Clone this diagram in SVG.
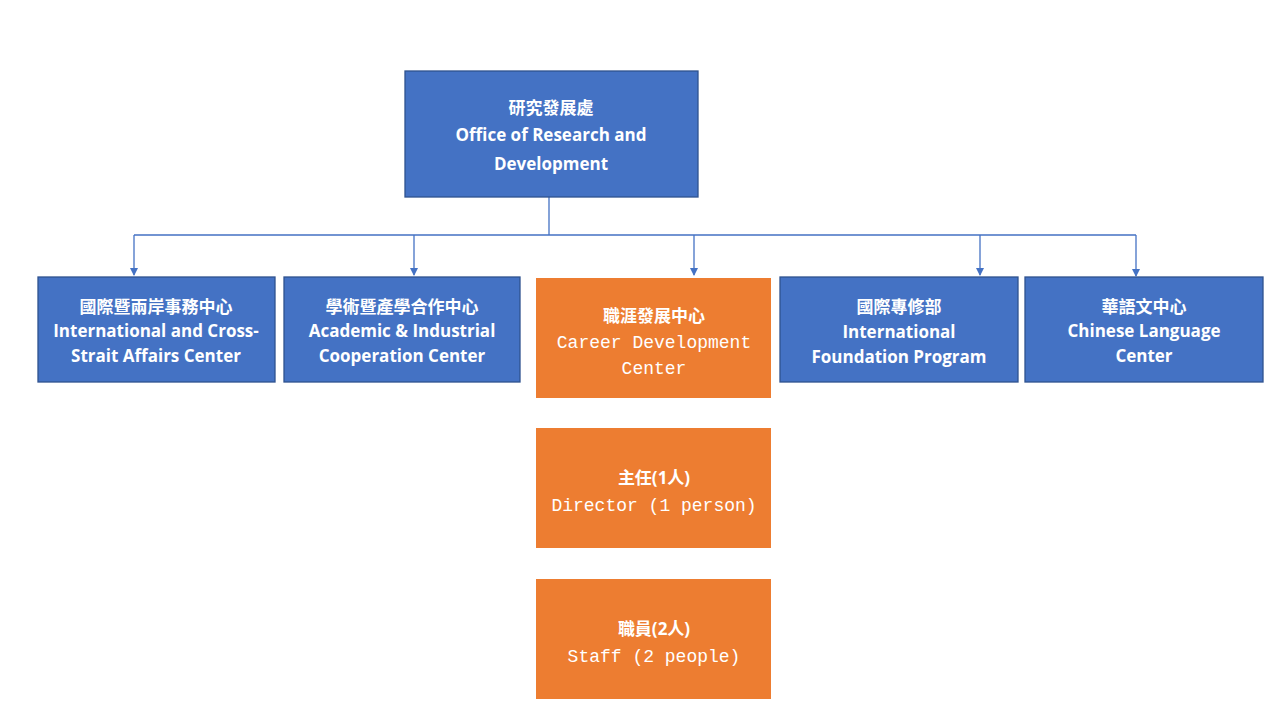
<svg xmlns="http://www.w3.org/2000/svg" width="1280" height="720" viewBox="0 0 1280 720">
<style>
.b{fill:#4472C4;stroke:#2F528F;stroke-width:1.3}
.o{fill:#ED7D31}
text{fill:#fff;font-family:"Open Sans","Noto Sans CJK TC",sans-serif;font-weight:bold;text-anchor:middle;font-size:17px}
.m{font-family:"Liberation Mono","Noto Sans CJK TC",monospace;font-weight:normal;font-size:18px}
.c{stroke:#4472C4;stroke-width:1.3;fill:none}
</style>
<defs><marker id="a" markerWidth="8" markerHeight="8" refX="7" refY="4" orient="auto" markerUnits="userSpaceOnUse"><path d="M0,0L8,4L0,8z" fill="#4472C4"/></marker></defs>
<rect width="1280" height="720" fill="#fff"/>
<g id="connectors">
<path class="c" d="M549,197V235M134,235H1136"/>
<path class="c" d="M134,235V275" marker-end="url(#a)"/>
<path class="c" d="M414,235V275" marker-end="url(#a)"/>
<path class="c" d="M694,235V275" marker-end="url(#a)"/>
<path class="c" d="M980,235V275" marker-end="url(#a)"/>
<path class="c" d="M1136,235V276" marker-end="url(#a)"/>
</g>
<g id="top"><rect class="b" x="405" y="71" width="293" height="126"/>
<text x="551" y="114" font-size="20">研究發展處</text><text x="551" y="141" font-size="19">Office of Research and</text><text x="551" y="170" font-size="19">Development</text></g>
<g id="n1"><rect class="b" x="38" y="277" width="237" height="105"/>
<text x="156" y="313">國際暨兩岸事務中心</text><text x="156" y="337">International and Cross-</text><text x="156" y="362">Strait Affairs Center</text></g>
<g id="n2"><rect class="b" x="284" y="277" width="236" height="105"/>
<text x="402" y="313">學術暨產學合作中心</text><text x="402" y="337">Academic &amp; Industrial</text><text x="402" y="362">Cooperation Center</text></g>
<g id="n3"><rect class="o" x="536" y="278" width="235" height="120"/>
<text x="654" y="322" font-size="21">職涯發展中心</text><text class="m" x="654" y="348">Career Development</text><text class="m" x="654" y="374">Center</text></g>
<g id="n4"><rect class="b" x="780" y="277" width="238" height="105"/>
<text x="899" y="313">國際專修部</text><text x="899" y="338">International</text><text x="899" y="363">Foundation Program</text></g>
<g id="n5"><rect class="b" x="1025" y="277" width="238" height="105"/>
<text x="1144" y="313">華語文中心</text><text x="1144" y="337">Chinese Language</text><text x="1144" y="362">Center</text></g>
<g id="n6"><rect class="o" x="536" y="428" width="235" height="120"/>
<text x="654" y="484" font-size="21">主任(1人)</text><text class="m" x="654" y="511">Director (1 person)</text></g>
<g id="n7"><rect class="o" x="536" y="579" width="235" height="120"/>
<text x="654" y="635" font-size="21">職員(2人)</text><text class="m" x="654" y="662">Staff (2 people)</text></g>
</svg>
